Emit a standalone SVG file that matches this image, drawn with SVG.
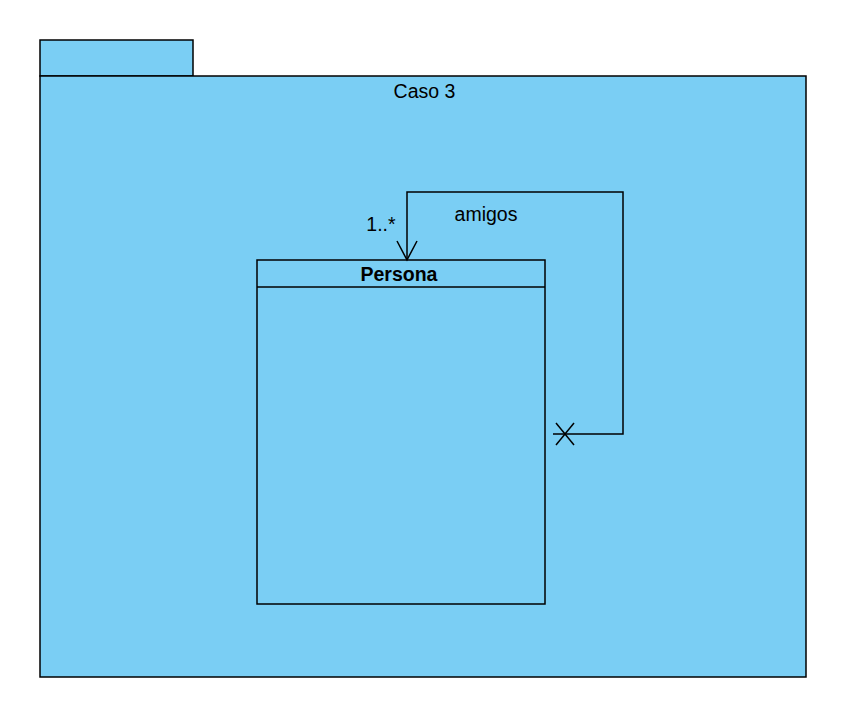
<svg xmlns="http://www.w3.org/2000/svg" width="844" height="709" viewBox="0 0 844 709">
<style>
.shape{fill:#7acef4;stroke:#000;stroke-width:1.5}
.line{fill:none;stroke:#000;stroke-width:1.5}
text{font-family:"Liberation Sans",Arial,sans-serif;font-size:19.5px;fill:#000}
.b{font-weight:bold}
</style>
<rect width="844" height="709" fill="#fff"/>
<g id="package-caso3">
<rect class="shape" x="40" y="40" width="153" height="36"/>
<rect class="shape" x="40" y="76" width="766" height="601"/>
<text x="424.5" y="98" text-anchor="middle">Caso 3</text>
</g>
<g id="class-persona">
<rect class="shape" x="257" y="260" width="288" height="344"/>
<line class="line" x1="257" y1="287" x2="545" y2="287"/>
<text class="b" x="399" y="281" text-anchor="middle">Persona</text>
</g>
<g id="connectors">
<polyline class="line" points="553,434 623,434 623,192 407,192 407,260"/>
<polyline class="line" points="397,241 407,260 417,241"/>
<line class="line" x1="556" y1="423" x2="574" y2="445"/>
<line class="line" x1="556" y1="445" x2="574" y2="423"/>
<text x="381" y="231" text-anchor="middle">1..*</text>
<text x="486" y="221" text-anchor="middle">amigos</text>
</g>
</svg>
